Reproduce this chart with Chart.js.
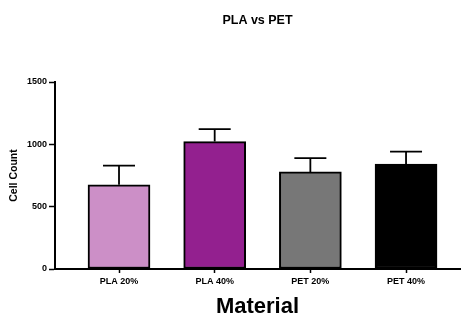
<!DOCTYPE html>
<html lang="en">
<head>
    <meta charset="UTF-8">
    <title>PLA vs PET</title>
    <style>
        html, body { margin: 0; padding: 0; background: #fff; }
        #chartBox { width: 462px; height: 320px; }
    </style>
</head>
<body>
    <div id="chartBox">
        <canvas id="barCanvas" width="462" height="320"></canvas>
    </div>

    <script src="https://cdn.jsdelivr.net/npm/chart.js"></script>
    <script>
        // Data
        const categories = ['PLA 20%', 'PLA 40%', 'PET 20%', 'PET 40%'];
        const cellCounts = [675, 1022, 779, 841];
        const errorsUp = [155, 100, 110, 101];
        const barColors = ['#cc8fc7', '#93208f', '#777777', '#000000'];
        const yTicks = [0, 500, 1000, 1500];

        // Positions on the numeric x scale, one per category
        const xPositions = categories.map((c, i) => i + 1);

        // upper-only error bars, Prism style
        const errorBarPlugin = {
            id: 'errorBars',
            afterDatasetsDraw(chart) {
                const ctx = chart.ctx;
                const yScale = chart.scales.y;
                const meta = chart.getDatasetMeta(0);
                ctx.save();
                ctx.strokeStyle = '#000';
                ctx.lineWidth = 1.8;
                meta.data.forEach((bar, i) => {
                    const yTop = yScale.getPixelForValue(cellCounts[i] + errorsUp[i]);
                    const capHalf = 16;
                    ctx.beginPath();
                    ctx.moveTo(bar.x, bar.y);
                    ctx.lineTo(bar.x, yTop);
                    ctx.moveTo(bar.x - capHalf, yTop);
                    ctx.lineTo(bar.x + capHalf, yTop);
                    ctx.stroke();
                });
                ctx.restore();
            }
        };

        const ctx = document.getElementById('barCanvas').getContext('2d');
        const barChart = new Chart(ctx, {
            type: 'bar',
            data: {
                datasets: [{
                    label: 'Cell Count',
                    data: xPositions.map((x, i) => ({ x: x, y: cellCounts[i] })),
                    backgroundColor: barColors,
                    borderColor: '#000',
                    borderWidth: 2,
                    borderSkipped: false,
                    barThickness: 62
                }]
            },
            options: {
                responsive: false,
                animation: false,
                layout: { padding: { top: 0, right: 2, bottom: 0, left: 0 } },
                plugins: {
                    legend: { display: false },
                    tooltip: { enabled: false },
                    title: {
                        display: true,
                        text: 'PLA vs PET',
                        color: '#000',
                        fullSize: false,
                        font: { family: 'Liberation Sans', size: 12.5, weight: 'bold', lineHeight: 1.2 },
                        padding: { top: 13, bottom: 54 }
                    }
                },
                scales: {
                    x: {
                        type: 'linear',
                        min: 0.331,
                        max: 4.564,
                        offset: false,
                        afterBuildTicks: (scale) => {
                            scale.ticks = xPositions.map(v => ({ value: v }));
                        },
                        afterFit: (scale) => { scale.height = 51; },
                        grid: {
                            offset: false,
                            drawOnChartArea: false,
                            drawTicks: true,
                            tickLength: 4,
                            tickWidth: 1.5,
                            tickColor: '#000'
                        },
                        border: { display: true, color: '#000', width: 2 },
                        ticks: {
                            autoSkip: false,
                            maxRotation: 0,
                            padding: 3,
                            color: '#000',
                            font: { family: 'Liberation Sans', size: 9, weight: 'bold' },
                            callback: (v) => categories[v - 1]
                        },
                        title: {
                            display: true,
                            text: 'Material',
                            color: '#000',
                            font: { family: 'Liberation Sans', size: 22, weight: 'bold', lineHeight: 1 },
                            padding: { top: 0, bottom: 2 }
                        }
                    },
                    y: {
                        min: 0,
                        max: 1500,
                        afterBuildTicks: (scale) => {
                            scale.ticks = yTicks.map(v => ({ value: v }));
                        },
                        afterFit: (scale) => { scale.width = 55; },
                        grid: {
                            drawOnChartArea: false,
                            drawTicks: true,
                            tickLength: 6,
                            tickWidth: 1.5,
                            tickColor: '#000'
                        },
                        border: { display: true, color: '#000', width: 2 },
                        ticks: {
                            padding: 2,
                            color: '#000',
                            font: { family: 'Liberation Sans', size: 9, weight: 'bold' },
                            callback: (v) => String(v)
                        },
                        title: {
                            display: true,
                            text: 'Cell Count',
                            color: '#000',
                            font: { family: 'Liberation Sans', size: 10.5, weight: 'bold', lineHeight: 1.2 },
                            padding: { top: 8, bottom: 0 }
                        }
                    }
                }
            },
            plugins: [errorBarPlugin]
        });
    </script>
</body>
</html>
